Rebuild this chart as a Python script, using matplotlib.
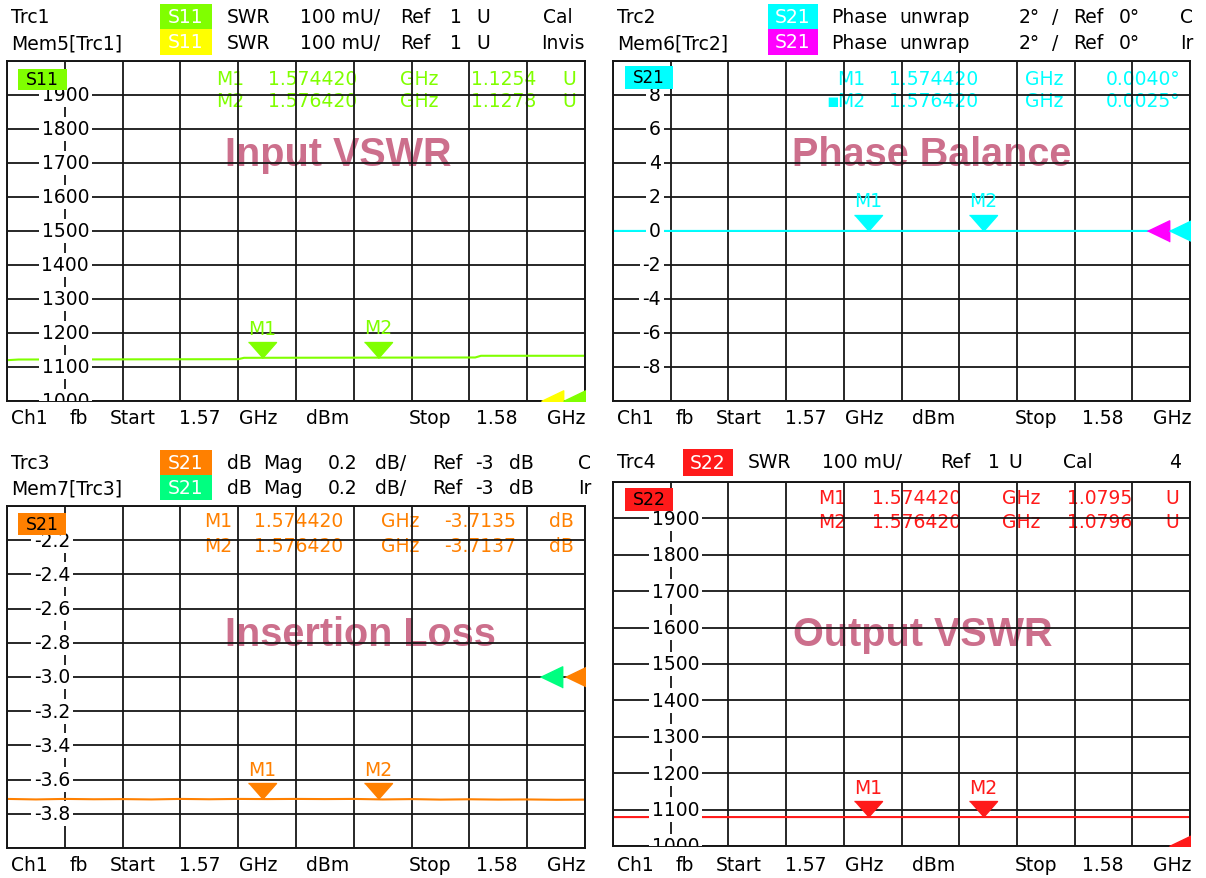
import numpy as np
from matplotlib import pyplot as plt
from matplotlib import transforms
from matplotlib.patches import Rectangle

W, H = 1206, 879
plt.rcParams['font.family'] = ['DejaVu Sans']
plt.rcParams['font.size'] = 13.5

# ---- data ----
f_start, f_stop = 1.57, 1.58
mk_f = [1.574420, 1.576420]
mk_names = ['M1', 'M2']

s11_f = [1.5700, 1.5701, 1.5702, 1.5740, 1.5741, 1.5781, 1.5782, 1.5800]
s11_v = [1.120, 1.121, 1.122, 1.123, 1.127, 1.128, 1.133, 1.133]
s11_mk = [1.1254, 1.1278]

ph_f = [1.5700, 1.5735, 1.5770, 1.5800]
ph_v = [0.0035, 0.0040, 0.0030, 0.0030]
ph_mk = [0.0040, 0.0025]

il_f = [1.5700, 1.5705, 1.5710, 1.5715, 1.5720, 1.5725, 1.5730, 1.5735, 1.5740, 1.5745, 1.5750,
        1.5755, 1.5760, 1.5765, 1.5770, 1.5775, 1.5780, 1.5785, 1.5790, 1.5795, 1.5800]
il_v = [-3.713, -3.716, -3.713, -3.715, -3.714, -3.716, -3.713, -3.715, -3.713, -3.714, -3.713,
        -3.714, -3.713, -3.716, -3.714, -3.717, -3.715, -3.717, -3.716, -3.718, -3.717]
il_mk = [-3.7135, -3.7137]

s22_f = [1.5700, 1.5750, 1.5800]
s22_v = [1.0795, 1.0795, 1.0796]
s22_mk = [1.0795, 1.0796]

swr_ticks = [1.0, 1.1, 1.2, 1.3, 1.4, 1.5, 1.6, 1.7, 1.8, 1.9]
swr_labels = ['1000', '1100', '1200', '1300', '1400', '1500', '1600', '1700', '1800', '1900']
ph_ticks = [-8, -6, -4, -2, 0, 2, 4, 6, 8]
ph_labels = ['-8', '-6', '-4', '-2', '0', '2', '4', '6', '8']
il_ticks = [-3.8, -3.6, -3.4, -3.2, -3.0, -2.8, -2.6, -2.4, -2.2]
il_labels = ['-3.8', '-3.6', '-3.4', '-3.2', '-3.0', '-2.8', '-2.6', '-2.4', '-2.2']

GREEN, YELLOW, CYAN, MAGENTA = '#80ff00', '#ffff00', '#00ffff', '#ff00ff'
ORANGE, SPRING, RED = '#ff8000', '#00ff80', '#ff1a1a'
TCOL = '#cc6f8c'
GRID = '#161616'

fig = plt.figure(figsize=(W / 100, H / 100), dpi=100)
PX = transforms.Affine2D().scale(1, -1).translate(0, H)  # pixel coords, origin top-left

TRI_DOWN = [(-1, 1.14), (1, 1.14), (0, 0)]
TRI_LEFT = [(0, 0), (1, 0.48), (1, -0.48)]


def put(x, y, s, c='black', ha='left', on=None, z=3, **kw):
    (on or fig).text(x, y, s, color=c, ha=ha, va='center', transform=PX, zorder=z, **kw)


def row(y, items, c='black', dx=0, on=None, z=3):
    for it in items:
        put(it[0] + dx, y, it[1], c=c, ha=it[2] if len(it) > 2 else 'left', on=on, z=z)


def box(x0, y0, x1, y1, c, s, tc, size=13.5):
    fig.add_artist(Rectangle((x0, y0), x1 - x0, y1 - y0, transform=PX, fc=c, ec='none', zorder=1))
    put((x0 + x1) / 2, (y0 + y1) / 2, s, c=tc, ha='center', fontsize=size)


def panel(x0, y0, x1, y1, ylim, ticks, labels, lab_x, f, v, mk, col, refs, ref_y):
    ax = fig.add_axes([x0 / W, 1 - y1 / H, (x1 - x0) / W, (y1 - y0) / H])
    ax.set_xlim(f_start, f_stop)
    ax.set_ylim(*ylim)
    ax.set_xticks(np.linspace(f_start, f_stop, 11))
    ax.set_yticks(np.linspace(ylim[0], ylim[1], 11))
    ax.tick_params(length=0, labelbottom=False, labelleft=False)
    ax.grid(True, color=GRID, lw=1.3)
    for s in ax.spines.values():
        s.set_color(GRID)
        s.set_linewidth(1.4)
    yx = transforms.blended_transform_factory(ax.transAxes, ax.transData)
    for t, l in zip(ticks, labels):
        ax.text(lab_x, t, l, transform=yx, ha='right', va='center', zorder=3, clip_on=True,
                bbox=dict(fc='white', ec='none', pad=2))
    ax.plot(f, v, color=col, lw=1.5, zorder=2.5)
    for fm, vm, name in zip(mk_f, mk, mk_names):
        ax.plot([fm], [vm], marker=TRI_DOWN, ms=23, color=col, ls='none', zorder=4)
        ax.annotate(name, (fm, vm), xytext=(0, 30), textcoords='offset pixels',
                    ha='center', va='center', color=col, zorder=4)
    for xf, c in refs:
        ax.plot([xf], [ref_y], marker=TRI_LEFT, ms=32, color=c, ls='none',
                transform=yx, zorder=4)
    return ax


# ---- top left: input VSWR ----
ax1 = panel(7, 62, 585, 402, (1.0, 2.0), swr_ticks, swr_labels, 0.142,
            s11_f, s11_v, s11_mk, GREEN, [(0.924, YELLOW), (0.962, GREEN)], 1.0)
ax1.text(225, 166, 'Input VSWR', transform=PX, va='baseline', family='Liberation Sans',
         weight='bold', fontsize=28.5, color=TCOL, zorder=1)
row(80, [(216, 'M1'), (268, '1.574420'), (438, 'GHz', 'right'), (471, '1.1254'), (576, 'U', 'right')],
    c=GREEN, on=ax1, z=1)
row(102, [(216, 'M2'), (268, '1.576420'), (438, 'GHz', 'right'), (471, '1.1278'), (576, 'U', 'right')],
    c=GREEN, on=ax1, z=1)
row(18, [(11, 'Trc1'), (227, 'SWR'), (300, '100 mU/'), (400, 'Ref'), (450, '1'), (476, 'U'), (543, 'Cal')])
row(44, [(11, 'Mem5[Trc1]'), (227, 'SWR'), (300, '100 mU/'), (400, 'Ref'), (450, '1'), (476, 'U'),
         (541, 'Invis')])
box(160, 5, 212, 30, GREEN, 'S11', 'white')
box(160, 30, 212, 56, YELLOW, 'S11', 'white')
box(18, 70, 67, 91, GREEN, 'S11', 'black', 12.5)

# ---- top right: phase balance ----
ax2 = panel(613, 62, 1190, 402, (-10, 10), ph_ticks, ph_labels, 0.083,
            ph_f, ph_v, ph_mk, CYAN, [(0.926, MAGENTA), (0.964, CYAN)], 0)
ax2.text(792, 166, 'Phase Balance', transform=PX, va='baseline', family='Liberation Sans',
         weight='bold', fontsize=28.5, color=TCOL, zorder=1)
row(80, [(837, 'M1'), (889, '1.574420'), (1063, 'GHz', 'right'), (1180, '0.0040°', 'right')],
    c=CYAN, on=ax2, z=1)
row(102, [(826, '▪'), (837, 'M2'), (889, '1.576420'), (1063, 'GHz', 'right'), (1180, '0.0025°', 'right')],
    c=CYAN, on=ax2, z=1)
for y, name, tail in [(18, 'Trc2', 'C'), (44, 'Mem6[Trc2]', 'Ir')]:
    row(y, [(617, name), (831, 'Phase'), (899, 'unwrap'), (1019, '2°'), (1052, '/'),
            (1073, 'Ref'), (1119, '0°'), (1180, tail)])
box(768, 5, 818, 30, CYAN, 'S21', 'white')
box(768, 30, 818, 56, MAGENTA, 'S21', 'white')
box(625, 67, 673, 90, CYAN, 'S21', 'black', 12)

# ---- bottom left: insertion loss ----
ax3 = panel(7, 507, 585, 849, (-4.0, -2.0), il_ticks, il_labels, 0.109,
            il_f, il_v, il_mk, ORANGE, [(0.922, SPRING), (0.965, ORANGE)], -3.0)
ax3.text(225, 646, 'Insertion Loss', transform=PX, va='baseline', family='Liberation Sans',
         weight='bold', fontsize=28.5, color=TCOL, zorder=1)
row(522, [(204, 'M1'), (254, '1.574420'), (419, 'GHz', 'right'), (444, '-3.7135'), (574, 'dB', 'right')],
    c=ORANGE, on=ax3, z=1)
row(547, [(204, 'M2'), (254, '1.576420'), (419, 'GHz', 'right'), (444, '-3.7137'), (574, 'dB', 'right')],
    c=ORANGE, on=ax3, z=1)
for y, name, tail in [(464, 'Trc3', 'C'), (489, 'Mem7[Trc3]', 'Ir')]:
    row(y, [(11, name), (227, 'dB'), (263, 'Mag'), (328, '0.2'), (375, 'dB/'),
            (432, 'Ref'), (475, '-3'), (509, 'dB'), (578, tail)])
box(160, 451, 212, 476, ORANGE, 'S21', 'white')
box(160, 476, 212, 501, SPRING, 'S21', 'white')
box(18, 514, 66, 536, ORANGE, 'S21', 'black', 12.5)

# ---- bottom right: output VSWR ----
ax4 = panel(613, 483, 1190, 847, (1.0, 2.0), swr_ticks, swr_labels, 0.150,
            s22_f, s22_v, s22_mk, RED, [(0.964, RED)], 1.0)
ax4.text(793, 646, 'Output VSWR', transform=PX, va='baseline', family='Liberation Sans',
         weight='bold', fontsize=28.5, color=TCOL, zorder=1)
row(499, [(818, 'M1'), (872, '1.574420'), (1040, 'GHz', 'right'), (1067, '1.0795'), (1179, 'U', 'right')],
    c=RED, on=ax4, z=1)
row(523, [(818, 'M2'), (872, '1.576420'), (1040, 'GHz', 'right'), (1067, '1.0796'), (1179, 'U', 'right')],
    c=RED, on=ax4, z=1)
row(463, [(617, 'Trc4'), (748, 'SWR'), (822, '100 mU/'), (940, 'Ref'), (988, '1'), (1008, 'U'),
          (1063, 'Cal'), (1181, '4', 'right')])
box(683, 450, 733, 477, RED, 'S22', 'white')
box(625, 489, 673, 512, RED, 'S22', 'black', 12.5)

# ---- channel footer under each diagram ----
footer = [(11, 'Ch1'), (70, 'fb'), (110, 'Start'), (179, '1.57'), (239, 'GHz'), (306, 'dBm'),
          (409, 'Stop'), (476, '1.58'), (585, 'GHz', 'right')]
for dx, y in [(0, 419), (606, 419), (0, 866), (606, 866)]:
    row(y, footer, dx=dx)

plt.savefig('out.png', dpi=100)
